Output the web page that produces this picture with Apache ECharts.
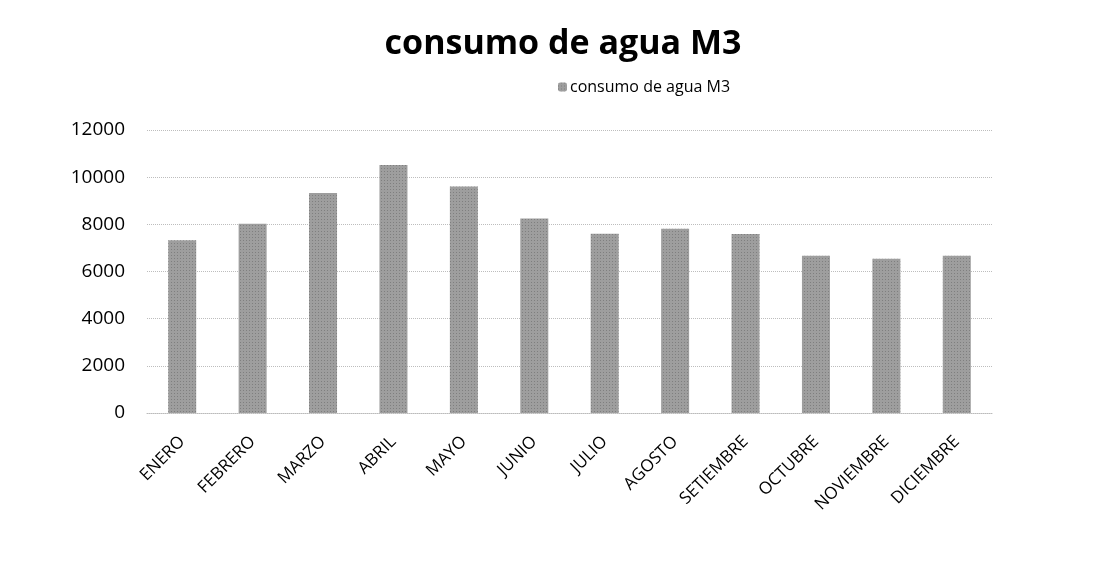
<!DOCTYPE html>
<html>
<head>
<meta charset="utf-8">
<script src="https://cdn.jsdelivr.net/npm/echarts@6/dist/echarts.min.js"></script>
<style>
  html, body { margin: 0; padding: 0; background: #fff; }
  #chart { width: 1109px; height: 565px; }
</style>
</head>
<body>
<div id="chart"></div>
<script>
  // datos
  const meses = ['ENERO', 'FEBRERO', 'MARZO', 'ABRIL', 'MAYO', 'JUNIO', 'JULIO', 'AGOSTO', 'SETIEMBRE', 'OCTUBRE', 'NOVIEMBRE', 'DICIEMBRE']
  const consumo = [7320, 8020, 9330, 10520, 9600, 8250, 7600, 7810, 7590, 6670, 6540, 6670]
  const serieNombre = 'consumo de agua M3'
  const tituloTexto = 'consumo de agua M3'

  const font = 'Open Sans'
  const chart = echarts.init(document.getElementById('chart'))
  chart.setOption({
    animation: false,
    title: {
      text: tituloTexto,
      left: 558,
      top: 22,
      textAlign: 'center',
      textStyle: { fontFamily: font, fontSize: 34, fontWeight: 'bold', color: '#000' }
    },
    legend: {
      data: [serieNombre],
      left: 553,
      top: 74,
      itemWidth: 9,
      itemHeight: 9,
      itemGap: 6,
      textStyle: { fontFamily: font, fontSize: 16, color: '#000', padding: [0, 0, 0, -2] }
    },
    grid: {
      left: 147,
      right: 117,
      top: 130,
      bottom: 152
    },
    xAxis: {
      type: 'category',
      data: meses,
      axisTick: { show: false },
      axisLine: { lineStyle: { color: '#bbb', type: 'dotted' } },
      axisLabel: {
        rotate: 45,
        margin: 26,
        fontFamily: font,
        fontSize: 17,
        color: '#000'
      }
    },
    yAxis: {
      type: 'value',
      min: 0,
      max: 12000,
      interval: 2000,
      axisLine: { show: false },
      axisTick: { show: false },
      axisLabel: {
        fontFamily: font,
        fontSize: 19,
        color: '#000',
        margin: 22,
        formatter: function (v) { return String(v) }
      },
      splitLine: { lineStyle: { color: '#bdbdbd', type: 'dotted' } }
    },
    series: [{
      name: serieNombre,
      type: 'bar',
      data: consumo,
      barWidth: 28,
      itemStyle: {
        color: '#9e9e9e',
        decal: {
          symbol: 'rect',
          symbolSize: 1,
          color: 'rgba(70,70,70,0.35)',
          dashArrayX: [1, 2],
          dashArrayY: [1, 2],
          rotation: 0
        }
      }
    }]
  })
</script>
</body>
</html>
